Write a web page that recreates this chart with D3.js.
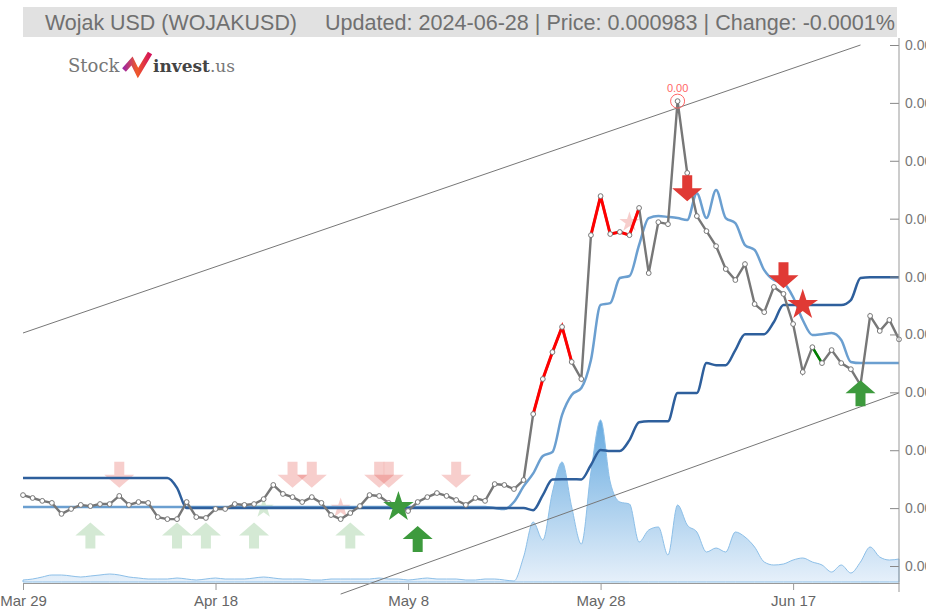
<!DOCTYPE html>
<html>
<head>
<meta charset="utf-8">
<script src="https://d3js.org/d3.v7.min.js"></script>
<style>
  body { margin: 0; background: #fff; }
  svg { display: block; }
</style>
</head>
<body>
<div id="chart"></div>
<script>
// daily data, Mar 29 -> Jun 28 2024
const startDate = new Date(Date.UTC(2024, 2, 29));

const price = [
  0.000445, 0.000435, 0.000425, 0.000418, 0.000380, 0.000397, 0.000411, 0.000407, 0.000414, 0.000414,
  0.000442, 0.000411, 0.000421, 0.000418, 0.000369, 0.000362, 0.000362, 0.000421, 0.000369, 0.000366,
  0.000397, 0.000397, 0.000414, 0.000411, 0.000414, 0.000431, 0.000480, 0.000449, 0.000438, 0.000421,
  0.000438, 0.000418, 0.000376, 0.000362, 0.000383, 0.000407, 0.000445, 0.000442, 0.000418, 0.000404,
  0.000390, 0.000421, 0.000438, 0.000452, 0.000442, 0.000428, 0.000411, 0.000435, 0.000425, 0.000483,
  0.000480, 0.000466, 0.000497, 0.000725, 0.000846, 0.000939, 0.001026, 0.000905, 0.000846, 0.001343,
  0.001478, 0.001347, 0.001354, 0.001343, 0.001437, 0.001212, 0.001388, 0.001381, 0.001806, 0.001558,
  0.001409, 0.001357, 0.001305, 0.001226, 0.001188, 0.001243, 0.001105, 0.001077, 0.001164, 0.001140,
  0.001036, 0.000870, 0.000956, 0.000901, 0.000946, 0.000901, 0.000880, 0.000825, 0.001064, 0.001012,
  0.001050, 0.000983
];

// fast moving average (light blue)
const maFast = [
  0.000404, 0.000404, 0.000404, 0.000404, 0.000404, 0.000404, 0.000404, 0.000404, 0.000404, 0.000404,
  0.000404, 0.000404, 0.000404, 0.000404, 0.000404, 0.000404, 0.000404, 0.000404, 0.000404, 0.000404,
  0.000404, 0.000404, 0.000404, 0.000404, 0.000404, 0.000404, 0.000404, 0.000404, 0.000404, 0.000404,
  0.000404, 0.000404, 0.000404, 0.000404, 0.000404, 0.000404, 0.000404, 0.000404, 0.000404, 0.000404,
  0.000404, 0.000404, 0.000404, 0.000404, 0.000404, 0.000404, 0.000404, 0.000404, 0.000404, 0.000400,
  0.000397, 0.000421, 0.000475, 0.000520, 0.000580, 0.000594, 0.000722, 0.000791, 0.000815, 0.000912,
  0.001102, 0.001108, 0.001195, 0.001202, 0.001309, 0.001402, 0.001409, 0.001406, 0.001402, 0.001395,
  0.001488, 0.001402, 0.001499, 0.001402, 0.001385, 0.001309, 0.001292, 0.001222, 0.001188, 0.001178,
  0.001129, 0.001050, 0.000998, 0.001001, 0.001005, 0.000981, 0.000905, 0.000901, 0.000901, 0.000901,
  0.000901, 0.000901
];

// slow moving average (dark blue)
const maSlow = [
  0.000504, 0.000504, 0.000504, 0.000504, 0.000504, 0.000504, 0.000504, 0.000504, 0.000504, 0.000504,
  0.000504, 0.000504, 0.000504, 0.000504, 0.000504, 0.000504, 0.000470, 0.000400, 0.000400, 0.000400,
  0.000400, 0.000400, 0.000400, 0.000400, 0.000400, 0.000400, 0.000400, 0.000400, 0.000400, 0.000400,
  0.000400, 0.000400, 0.000400, 0.000400, 0.000400, 0.000400, 0.000400, 0.000400, 0.000400, 0.000400,
  0.000400, 0.000400, 0.000400, 0.000400, 0.000400, 0.000400, 0.000400, 0.000400, 0.000400, 0.000400,
  0.000400, 0.000400, 0.000400, 0.000393, 0.000445, 0.000499, 0.000500, 0.000500, 0.000499, 0.000549,
  0.000601, 0.000597, 0.000597, 0.000635, 0.000697, 0.000700, 0.000700, 0.000700, 0.000798, 0.000798,
  0.000798, 0.000901, 0.000894, 0.000894, 0.000946, 0.001001, 0.001001, 0.001001, 0.001043, 0.001102,
  0.001102, 0.001102, 0.001102, 0.001102, 0.001102, 0.001102, 0.001119, 0.001195, 0.001198, 0.001198,
  0.001198, 0.001198
];

const volume = [
  2, 3, 5, 7, 7, 6, 5, 6, 7, 8,
  7, 5, 4, 3, 3, 3, 4, 3, 2, 3,
  4, 3, 3, 3, 4, 5, 4, 3, 3, 3,
  2, 2, 3, 3, 3, 3, 3, 4, 3, 3,
  2, 3, 4, 3, 3, 3, 2, 2, 3, 3,
  2, 1, 25, 60, 42, 90, 120, 75, 38, 110,
  162, 100, 80, 78, 40, 52, 55, 27, 77, 57,
  50, 30, 34, 30, 50, 45, 35, 20, 17, 18,
  22, 24, 20, 17, 10, 17, 9, 20, 35, 25,
  22, 23
];

// coloured stretches of the price line [from, to]
const redRuns = [[53, 57], [59, 64]];
const greenRuns = [[82, 83]];

// signals: [day index, price level]
const weakSells = [[10, 0.00047], [28, 0.00047], [30, 0.00047], [37, 0.00047], [38, 0.00047], [45, 0.00047]];
const weakBuys = [[7, 0.00035], [16, 0.00035], [19, 0.00035], [24, 0.00035], [34, 0.00035]];
const strongSells = [[69, 0.00146], [79, 0.00116]];
const strongBuys = [[41, 0.000338], [87, 0.000842]];
const weakStarsGreen = [[25, 0.000400]];
const weakStarsRed = [[33, 0.000400], [63, 0.001388]];
const strongStarsGreen = [[39, 0.000404]];
const strongStarsRed = [[81, 0.001102]];

// trend channel
const upperTrend = [[0, 0.001005], [87, 0.002]];
const lowerTrend = [[33, 0.000103], [91, 0.000798]];

const yTicks = [0.0002, 0.0004, 0.0006, 0.0008, 0.0010, 0.0012, 0.0014, 0.0016, 0.0018, 0.0020];
const xTickDays = [0, 20, 40, 60, 80];

const W = 926, H = 613;
const dates = price.map((d, i) => d3.utcDay.offset(startDate, i));

const svg = d3.select('#chart').append('svg')
  .attr('width', W).attr('height', H);

const x = d3.scaleUtc().domain([dates[0], dates[dates.length - 1]]).range([23, 899]);
const y = d3.scaleLinear().domain([0.0002, 0.002]).range([566, 45]);
const vy = d3.scaleLinear().domain([0, 180]).range([582, 402]);

const defs = svg.append('defs');
const vg = defs.append('linearGradient').attr('id', 'volGrad')
  .attr('gradientUnits', 'userSpaceOnUse')
  .attr('x1', 0).attr('y1', 410).attr('x2', 0).attr('y2', 582);
vg.append('stop').attr('offset', 0).attr('stop-color', '#5fa6de');
vg.append('stop').attr('offset', 1).attr('stop-color', '#e6f0fa');

const lg = defs.append('linearGradient').attr('id', 'logoGrad')
  .attr('x1', 0).attr('y1', 0).attr('x2', 1).attr('y2', 0);
lg.append('stop').attr('offset', 0).attr('stop-color', '#a0279e');
lg.append('stop').attr('offset', 0.5).attr('stop-color', '#f05a28');
lg.append('stop').attr('offset', 1).attr('stop-color', '#d4145a');

// header
svg.append('rect').attr('x', 23).attr('y', 7).attr('width', 874).attr('height', 30).attr('fill', '#e1e1e1');
svg.append('text').attr('x', 45).attr('y', 30)
  .attr('font-family', 'Liberation Sans Narrow, Arial Narrow, sans-serif').attr('font-size', 22)
  .attr('fill', '#707070').attr('textLength', 252).attr('lengthAdjust', 'spacingAndGlyphs')
  .text('Wojak USD (WOJAKUSD)');
svg.append('text').attr('x', 325).attr('y', 30)
  .attr('font-family', 'Liberation Sans Narrow, Arial Narrow, sans-serif').attr('font-size', 22)
  .attr('fill', '#707070').attr('textLength', 570).attr('lengthAdjust', 'spacingAndGlyphs')
  .text('Updated: 2024-06-28 | Price: 0.000983 | Change: -0.0001%');

// logo
const logo = svg.append('g');
logo.append('text').attr('x', 68).attr('y', 72)
  .attr('font-family', 'DejaVu Serif, serif').attr('font-size', 18).attr('fill', '#777')
  .text('Stock');
logo.append('path')
  .attr('d', 'M124,70 L132,61 L138,73 L150,53')
  .attr('fill', 'none').attr('stroke', 'url(#logoGrad)').attr('stroke-width', 5)
  .attr('stroke-linejoin', 'miter');
const brand = logo.append('text').attr('x', 153).attr('y', 72)
  .attr('font-family', 'DejaVu Serif, serif').attr('font-size', 17);
brand.append('tspan').attr('font-weight', 'bold').attr('fill', '#444').text('invest');
brand.append('tspan').attr('fill', '#777').text('.us');

// volume area
const vArea = d3.area()
  .x((d, i) => x(dates[i]))
  .y0(582)
  .y1(d => vy(d))
  .curve(d3.curveMonotoneX);
svg.append('path').datum(volume)
  .attr('d', vArea).attr('fill', 'url(#volGrad)')
  .attr('stroke', '#8cbfe8').attr('stroke-width', 1);

// trend lines
const trendLine = d3.line().x(d => x(dates[0]) + (x(dates[1]) - x(dates[0])) * d[0]).y(d => y(d[1]));
[upperTrend, lowerTrend].forEach(t => {
  svg.append('path').datum(t).attr('d', trendLine)
    .attr('fill', 'none').attr('stroke', '#777').attr('stroke-width', 1);
});

// signal glyphs
const downArrow = 'M-5,-26 L5,-26 L5,-13 L15,-13 L0,0 L-15,-13 L-5,-13 Z';
const upArrow = 'M-5,26 L5,26 L5,13 L15,13 L0,0 L-15,13 L-5,13 Z';
const RED = '#e03a35', GREEN = '#3d9a3d';

function drawMarks(list, path, color, op) {
  svg.append('g').selectAll('path').data(list).join('path')
    .attr('transform', d => 'translate(' + x(dates[d[0]]) + ',' + y(d[1]) + ')')
    .attr('d', path).attr('fill', color).attr('opacity', op);
}
const starSmall = d3.symbol(d3.symbolStar, 125)();
const starBig = d3.symbol(d3.symbolStar, 290)();

// faded signals go behind the lines
drawMarks(weakSells, downArrow, RED, 0.25);
drawMarks(weakBuys, upArrow, GREEN, 0.22);
drawMarks(weakStarsGreen, starSmall, GREEN, 0.22);
drawMarks(weakStarsRed, starSmall, RED, 0.25);

// moving averages
const maLine = d3.line().x((d, i) => x(dates[i])).y(d => y(d)).curve(d3.curveMonotoneX);
svg.append('path').datum(maFast).attr('d', maLine)
  .attr('fill', 'none').attr('stroke', '#6b9fd0').attr('stroke-width', 2.5);
svg.append('path').datum(maSlow).attr('d', maLine)
  .attr('fill', 'none').attr('stroke', '#2e5f9c').attr('stroke-width', 2.5);

// price line
const pLine = d3.line().x(d => x(dates[d.i])).y(d => y(d.v));
const pts = price.map((v, i) => ({ i: i, v: v }));
svg.append('path').datum(pts).attr('d', pLine)
  .attr('fill', 'none').attr('stroke', '#777').attr('stroke-width', 2.4);
redRuns.forEach(r => {
  svg.append('path').datum(pts.slice(r[0], r[1] + 1)).attr('d', pLine)
    .attr('fill', 'none').attr('stroke', '#ff0000').attr('stroke-width', 3);
});
greenRuns.forEach(r => {
  svg.append('path').datum(pts.slice(r[0], r[1] + 1)).attr('d', pLine)
    .attr('fill', 'none').attr('stroke', '#008000').attr('stroke-width', 2.5);
});
svg.append('g').selectAll('circle').data(pts).join('circle')
  .attr('cx', d => x(dates[d.i])).attr('cy', d => y(d.v)).attr('r', 2.4)
  .attr('fill', '#fff').attr('stroke', '#777').attr('stroke-width', 1);

// peak marker
const peak = pts.reduce((a, b) => (b.v > a.v ? b : a));
svg.append('circle').attr('cx', x(dates[peak.i])).attr('cy', y(peak.v)).attr('r', 7)
  .attr('fill', 'none').attr('stroke', '#f66').attr('stroke-width', 1);
svg.append('text').attr('x', x(dates[peak.i])).attr('y', y(peak.v) - 9)
  .attr('text-anchor', 'middle').attr('font-family', 'Liberation Sans, Arial, sans-serif')
  .attr('font-size', 11).attr('fill', '#f66').text(d3.format('.2f')(peak.v));

// strong signals on top
drawMarks(strongSells, downArrow, RED, 1);
drawMarks(strongBuys, upArrow, GREEN, 1);
drawMarks(strongStarsGreen, starBig, GREEN, 1);
drawMarks(strongStarsRed, starBig, RED, 1);

// x axis
const xAxis = d3.axisBottom(x)
  .tickValues(xTickDays.map(i => dates[i]))
  .tickFormat(d3.utcFormat('%b %-d'))
  .tickSizeInner(7).tickSizeOuter(0).tickPadding(5);
const gx = svg.append('g').attr('transform', 'translate(0,583)').call(xAxis);
gx.select('.domain').attr('stroke', '#999');
gx.selectAll('.tick line').attr('stroke', '#999');
gx.selectAll('text').attr('font-family', 'Liberation Sans Narrow, Arial Narrow, sans-serif')
  .attr('font-size', 15).attr('fill', '#666');

// y axis on the right
const yAxis = d3.axisRight(y)
  .tickValues(yTicks)
  .tickFormat(d3.format('.4f'))
  .tickSizeInner(-9).tickSizeOuter(0).tickPadding(6);
const gy = svg.append('g').attr('transform', 'translate(899,0)').call(yAxis);
gy.select('.domain').remove();
gy.append('line').attr('x1', 0).attr('x2', 0).attr('y1', 38).attr('y2', 592).attr('stroke', '#999');
gy.selectAll('.tick line').attr('stroke', '#888');
gy.selectAll('text').attr('font-family', 'Liberation Sans, Arial, sans-serif')
  .attr('font-size', 14).attr('fill', '#777');
</script>
</body>
</html>
